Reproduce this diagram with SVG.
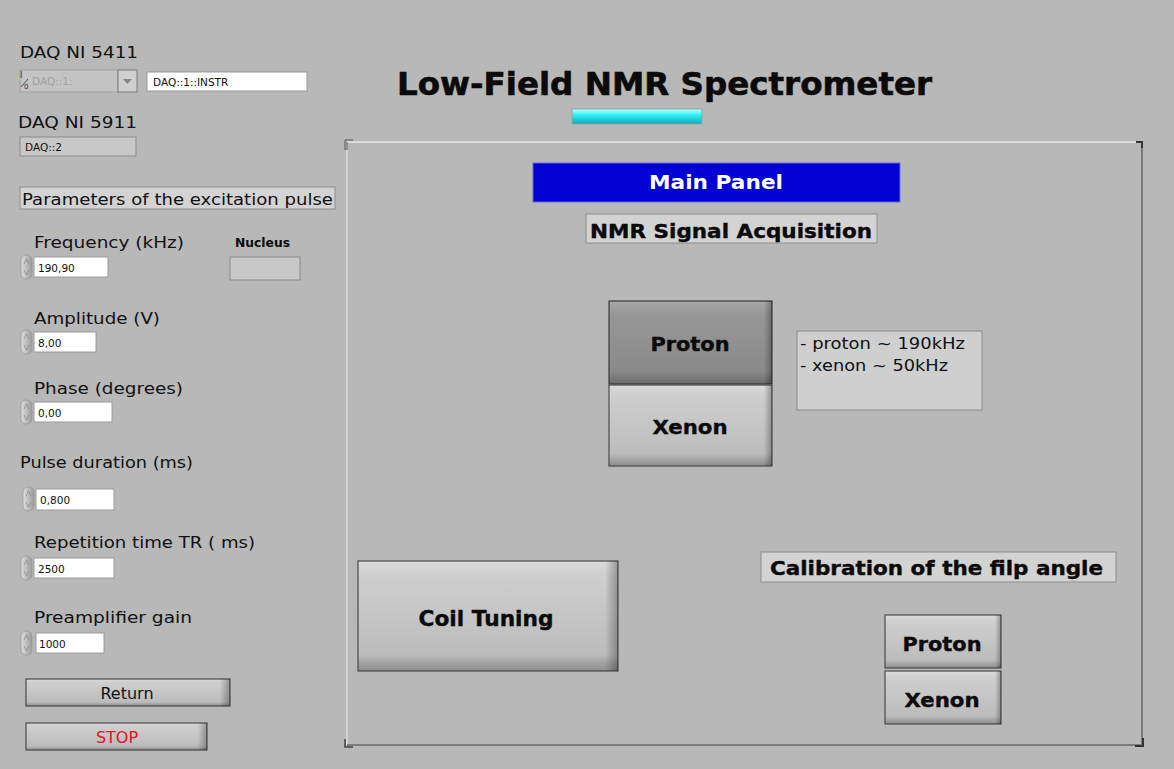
<svg xmlns="http://www.w3.org/2000/svg" width="1174" height="769" viewBox="0 0 1174 769">
<defs>
<linearGradient id="btn" x1="0" y1="0" x2="0" y2="1">
<stop offset="0" stop-color="#dcdcdc"/><stop offset="0.12" stop-color="#cfcfcf"/><stop offset="0.85" stop-color="#bcbcbc"/><stop offset="1" stop-color="#8c8c8c"/>
</linearGradient>
<linearGradient id="btnDown" x1="0" y1="0" x2="0" y2="1">
<stop offset="0" stop-color="#a8a8a8"/><stop offset="0.15" stop-color="#979797"/><stop offset="0.85" stop-color="#8a8a8a"/><stop offset="1" stop-color="#6a6a6a"/>
</linearGradient>
<linearGradient id="edge" x1="0" y1="0" x2="1" y2="0">
<stop offset="0" stop-color="#000" stop-opacity="0"/><stop offset="0.95" stop-color="#000" stop-opacity="0"/><stop offset="1" stop-color="#000" stop-opacity="0.3"/>
</linearGradient>
<linearGradient id="cyan" x1="0" y1="0" x2="0" y2="1">
<stop offset="0" stop-color="#b8ffff"/><stop offset="0.4" stop-color="#30f0f0"/><stop offset="1" stop-color="#10a8b8"/>
</linearGradient>
<linearGradient id="spin" x1="0" y1="0" x2="1" y2="0">
<stop offset="0" stop-color="#e0e0e0"/><stop offset="1" stop-color="#9a9a9a"/>
</linearGradient>
<g id="spinner">
<rect x="0" y="0" width="11" height="24" rx="5" fill="url(#spin)" stroke="#9a9a9a" stroke-width="0.8"/>
<path d="M3 9 L5.5 4 L8 9 M3 15 L5.5 20 L8 15" fill="none" stroke="#888" stroke-width="0.8"/>
</g>
</defs>
<style>
.t{font-family:"DejaVu Sans","Liberation Sans",sans-serif;fill:#111}
.b{font-family:"DejaVu Sans","Liberation Sans",sans-serif;font-weight:bold;fill:#0a0a0a}
.v{font-family:"DejaVu Sans","Liberation Sans",sans-serif;font-size:10.5px;fill:#111}
.box{fill:#ffffff;stroke:#9a9a9a;stroke-width:1}
.sunk{fill:#c8c8c8;stroke:#8a8a8a;stroke-width:1}
.lbl{fill:#d3d3d3;stroke:#8c8c8c;stroke-width:1}
.btn{fill:url(#btn);stroke:#4a4a4a;stroke-width:1.2}
.btnd{fill:url(#btnDown);stroke:#3a3a3a;stroke-width:1.2}
.edge{fill:url(#edge);stroke:none}
</style>
<rect x="0" y="0" width="1174" height="769" fill="#b8b8b8"/>

<g id="title">
<text class="b" x="397" y="95" font-size="32" textLength="535" lengthAdjust="spacingAndGlyphs" stroke="#0a0a0a" stroke-width="0.6">Low-Field NMR Spectrometer</text>
<rect x="572" y="109" width="130" height="15" fill="url(#cyan)" stroke="#8aa" stroke-width="1"/>
</g>

<g id="daq5411">
<text class="t" x="20" y="58" font-size="16" textLength="118" lengthAdjust="spacingAndGlyphs">DAQ NI 5411</text>
<rect x="20" y="70" width="98" height="22" fill="#c4c4c4" stroke="#a0a0a0"/>
<text x="20" y="78" font-family="DejaVu Sans,sans-serif" font-size="8" fill="#333">I</text>
<line x1="21" y1="87" x2="28" y2="79" stroke="#333" stroke-width="0.8"/>
<text x="24" y="89" font-family="DejaVu Sans,sans-serif" font-size="7" fill="#333">0</text>
<text class="v" x="32" y="85" style="fill:#a0a0a0">DAQ::1:</text>
<rect x="118" y="70" width="19" height="22" fill="#cfcfcf" stroke="#7a7a7a"/>
<path d="M123 79 L132 79 L127.5 84 Z" fill="#888"/>
<rect class="box" x="147" y="72" width="160" height="19" stroke="#7a7a7a"/>
<text class="v" x="153" y="86">DAQ::1::INSTR</text>
</g>

<g id="daq5911">
<text class="t" x="18" y="128" font-size="16" textLength="119" lengthAdjust="spacingAndGlyphs">DAQ NI 5911</text>
<rect class="sunk" x="20" y="137" width="116" height="19"/>
<text class="v" x="25" y="151">DAQ::2</text>
</g>

<g id="params">
<rect class="lbl" x="20" y="187" width="315" height="22"/>
<text class="t" x="22" y="205" font-size="16" textLength="311" lengthAdjust="spacingAndGlyphs">Parameters of the excitation pulse</text>
</g>

<g id="frequency">
<text class="t" x="34" y="248" font-size="16" textLength="150" lengthAdjust="spacingAndGlyphs">Frequency (kHz)</text>
<use href="#spinner" x="21" y="255"/>
<rect class="box" x="34" y="257" width="74" height="20"/>
<text class="v" x="38" y="272">190,90</text>
</g>

<g id="nucleus">
<text class="b" x="235" y="247" font-size="12" textLength="55" lengthAdjust="spacingAndGlyphs" style="font-weight:600">Nucleus</text>
<rect class="sunk" x="230" y="257" width="70" height="23"/>
</g>

<g id="amplitude">
<text class="t" x="34" y="324" font-size="16" textLength="126" lengthAdjust="spacingAndGlyphs">Amplitude (V)</text>
<use href="#spinner" x="21" y="330"/>
<rect class="box" x="34" y="332" width="62" height="20"/>
<text class="v" x="38" y="347">8,00</text>
</g>

<g id="phase">
<text class="t" x="34" y="394" font-size="16" textLength="149" lengthAdjust="spacingAndGlyphs">Phase (degrees)</text>
<use href="#spinner" x="21" y="400"/>
<rect class="box" x="34" y="402" width="78" height="20"/>
<text class="v" x="38" y="417">0,00</text>
</g>

<g id="pulse">
<text class="t" x="20" y="468" font-size="16" textLength="173" lengthAdjust="spacingAndGlyphs">Pulse duration (ms)</text>
<use href="#spinner" x="23" y="487"/>
<rect class="box" x="36" y="489" width="78" height="21"/>
<text class="v" x="40" y="504">0,800</text>
</g>

<g id="repetition">
<text class="t" x="34" y="548" font-size="16" textLength="221" lengthAdjust="spacingAndGlyphs">Repetition time TR ( ms)</text>
<use href="#spinner" x="21" y="556"/>
<rect class="box" x="34" y="558" width="80" height="20"/>
<text class="v" x="38" y="573">2500</text>
</g>

<g id="preamp">
<text class="t" x="34" y="623" font-size="16" textLength="158" lengthAdjust="spacingAndGlyphs">Preamplifier gain</text>
<use href="#spinner" x="21" y="631"/>
<rect class="box" x="36" y="633" width="68" height="20"/>
<text class="v" x="39" y="648">1000</text>
</g>

<g id="return">
<rect class="btn" x="26" y="679" width="204" height="27"/>
<rect class="edge" x="26" y="679" width="204" height="27"/>
<text class="t" x="127" y="699" font-size="16" text-anchor="middle">Return</text>
</g>

<g id="stop">
<rect class="btn" x="26" y="723" width="181" height="27"/>
<rect class="edge" x="26" y="723" width="181" height="27"/>
<text x="117" y="743" font-family="DejaVu Sans,sans-serif" font-size="16" fill="#e8101a" text-anchor="middle">STOP</text>
</g>

<g id="mainFrame">
<line x1="347" y1="142" x2="1142" y2="142" stroke="#dcdcdc" stroke-width="2"/>
<line x1="347" y1="142" x2="347" y2="745" stroke="#d4d4d4" stroke-width="2"/>
<line x1="1142" y1="142" x2="1142" y2="745" stroke="#7c7c7c" stroke-width="2"/>
<line x1="347" y1="745" x2="1142" y2="745" stroke="#7c7c7c" stroke-width="2"/>
<path d="M345 150 L345 140 L353 140 M347 150 L347 142" fill="none" stroke="#555" stroke-width="1"/>
<path d="M1136 142 L1142 142 L1142 148" fill="none" stroke="#333" stroke-width="2"/>
<path d="M345 739 L345 747 L353 747" fill="none" stroke="#444" stroke-width="1.5"/>
<path d="M1135 746 L1143 746 L1143 738" fill="none" stroke="#333" stroke-width="2"/>
</g>

<g id="mainPanel">
<rect x="533" y="163" width="367" height="39" fill="#0000d2" stroke="#6a6ad8" stroke-width="1"/>
<text x="716" y="189" font-family="DejaVu Sans,sans-serif" font-weight="bold" font-size="19" fill="#ffffff" text-anchor="middle" textLength="134" lengthAdjust="spacingAndGlyphs">Main Panel</text>
</g>

<g id="nmrAcq">
<rect class="lbl" x="586" y="214" width="291" height="29"/>
<text class="b" x="590" y="238" font-size="20" textLength="282" lengthAdjust="spacingAndGlyphs" stroke="#0a0a0a" stroke-width="0.4">NMR Signal Acquisition</text>
</g>

<g id="protonBtn">
<rect class="btnd" x="609" y="301" width="163" height="83"/>
<rect class="edge" x="609" y="301" width="163" height="83"/>
<text class="b" x="690" y="351" font-size="20" text-anchor="middle" textLength="79" lengthAdjust="spacingAndGlyphs" stroke="#0a0a0a" stroke-width="0.4">Proton</text>
</g>

<g id="xenonBtn">
<rect class="btn" x="609" y="385" width="163" height="81"/>
<rect class="edge" x="609" y="385" width="163" height="81"/>
<text class="b" x="690" y="434" font-size="20" text-anchor="middle" textLength="75" lengthAdjust="spacingAndGlyphs" stroke="#0a0a0a" stroke-width="0.4">Xenon</text>
</g>

<g id="infoBox">
<rect x="797" y="331" width="185" height="79" fill="#cfcfcf" stroke="#8a8a8a" stroke-width="1"/>
<text class="t" x="800" y="349" font-size="15" textLength="165" lengthAdjust="spacingAndGlyphs">- proton ~ 190kHz</text>
<text class="t" x="800" y="371" font-size="15" textLength="148" lengthAdjust="spacingAndGlyphs">- xenon ~ 50kHz</text>
</g>

<g id="coilTuning">
<rect class="btn" x="358" y="561" width="260" height="110"/>
<rect class="edge" x="358" y="561" width="260" height="110"/>
<text class="b" x="486" y="626" font-size="22" text-anchor="middle" textLength="135" lengthAdjust="spacingAndGlyphs" stroke="#0a0a0a" stroke-width="0.4">Coil Tuning</text>
</g>

<g id="calibration">
<rect class="lbl" x="761" y="552" width="355" height="30"/>
<text class="b" x="770" y="575" font-size="20" textLength="333" lengthAdjust="spacingAndGlyphs" stroke="#0a0a0a" stroke-width="0.4">Calibration of the filp angle</text>
</g>

<g id="calProton">
<rect class="btn" x="885" y="615" width="116" height="53"/>
<rect class="edge" x="885" y="615" width="116" height="53"/>
<text class="b" x="942" y="651" font-size="20" text-anchor="middle" textLength="79" lengthAdjust="spacingAndGlyphs" stroke="#0a0a0a" stroke-width="0.4">Proton</text>
</g>

<g id="calXenon">
<rect class="btn" x="885" y="671" width="116" height="53"/>
<rect class="edge" x="885" y="671" width="116" height="53"/>
<text class="b" x="942" y="707" font-size="20" text-anchor="middle" textLength="75" lengthAdjust="spacingAndGlyphs" stroke="#0a0a0a" stroke-width="0.4">Xenon</text>
</g>

<g id="connectors"></g>
</svg>
